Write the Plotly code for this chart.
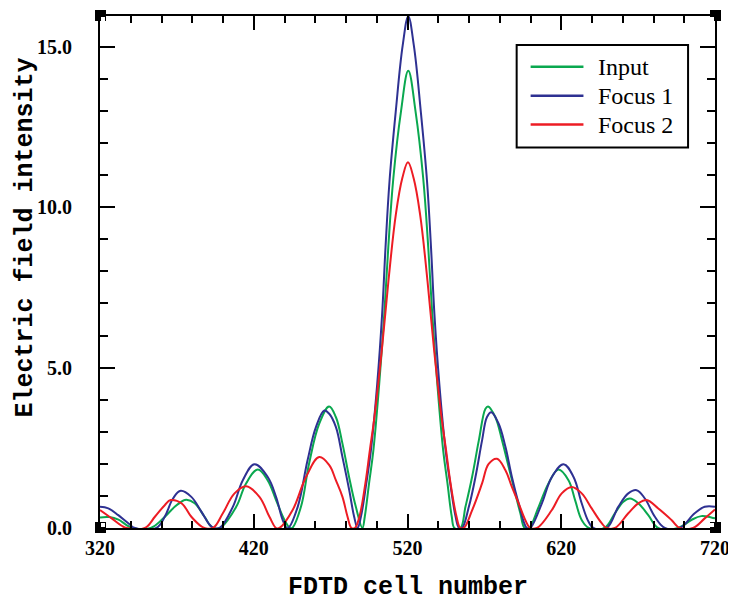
import plotly.graph_objects as go

# ---- data ----
input_x = [320, 326, 332, 337, 341, 353, 360, 368.6, 374, 376.2, 381.6, 388, 393, 398,
           408.6, 415, 422.6, 429, 434.5, 440, 443.5, 445, 450.7, 456, 462.6, 469, 473.4,
           477.7, 482, 486.4, 490.7, 492.2, 495, 497.8, 501.6, 504.9, 507.5, 510.8, 515.75,
           520.5, 525.25, 530.2, 533.5, 536.1, 539.4, 543.2, 546, 548.8, 550.5, 554.4,
           557.7, 562, 566.4, 570.7, 572.4, 577.1, 581.5, 585.8, 590.1, 593.4, 596.2, 599,
           605.3, 611.7, 618.2, 624.7, 629, 633.3, 638, 648, 654.9, 660.4, 664.7, 670.1,
           676.6, 683, 696, 704.6, 711, 717.6, 720]
input_y = [0.33, 0.34, 0.26, 0.10, 0.0, 0.0, 0.25, 0.66, 0.85, 0.88, 0.77, 0.35, 0.02, 0.0,
           0.66, 1.39, 1.82, 1.49, 0.87, 0.25, 0.0, 0.0, 0.66, 2.01, 3.25, 3.79, 3.46,
           2.63, 1.59, 0.66, 0.0, 0.35, 1.39, 2.42, 4.49, 6.67, 8.74, 10.91, 12.98,
           14.25, 12.98, 10.91, 8.74, 6.67, 4.49, 2.42, 1.39, 0.35, 0.0, 0.0,
           0.66, 1.59, 2.73, 3.72, 3.79, 3.46, 2.73, 1.90, 1.08, 0.46, 0.0, 0.0,
           0.66, 1.39, 1.82, 1.49, 0.87, 0.25, 0.0, 0.0, 0.46, 0.82, 0.92, 0.77,
           0.40, 0.0, 0.0, 0.25, 0.37, 0.33, 0.30]

focus1_x = [320, 325.4, 331.9, 338.4, 342.7, 356.7, 362.1, 367.5, 372.5, 379.4, 385.9, 391.3,
            394, 397.8, 406.4, 412.9, 420.5, 429.1, 434.5, 438.8, 441.5, 442.5, 448.6, 455,
            460.5, 465.9, 469.1, 473.4, 477.7, 482.1, 485.3, 487.5, 489.7, 493.2, 496.2,
            500.3, 503.5, 505.7, 508.3, 512.35, 516.9, 520.5, 524.1, 528.65, 532.7, 535.3,
            537.5, 540.7, 544.8, 547.8, 551.3, 553.5, 555.5, 559.9, 564.2, 568.5, 571.7,
            574.5, 579.3, 583.7, 587.9, 592.3, 597.6, 599.8, 607.4, 613.9, 621.5, 628, 633.3,
            637.7, 640.9, 649.5, 657.1, 663.6, 669, 674.4, 680.9, 687.4, 697.1, 706.8,
            713.3, 720]
focus1_y = [0.66, 0.61, 0.40, 0.15, 0.0, 0.0, 0.35, 0.92, 1.16, 0.97, 0.51, 0.10,
            0.0, 0.0, 0.66, 1.49, 1.99, 1.59, 0.97, 0.25, 0.0, 0.0, 0.66, 2.11,
            3.15, 3.66, 3.56, 3.15, 2.21, 1.18, 0.35, 0.0, 0.35, 1.39, 2.42,
            4.49, 6.67, 8.74, 10.81, 12.98, 15.05, 15.95, 15.05, 12.98, 10.81, 8.74,
            6.67, 4.49, 2.42, 1.39, 0.35, 0.0, 0.0, 0.66, 1.59, 2.73, 3.46,
            3.61, 3.25, 2.53, 1.59, 0.77, 0.0, 0.0, 0.77, 1.59, 1.99, 1.59, 0.77,
            0.20, 0.0, 0.0, 0.66, 1.08, 1.18, 0.92, 0.35, 0.0, 0.0, 0.46,
            0.66, 0.66]

focus2_x = [320, 327.6, 334.1, 337.3, 349.2, 355.7, 362.1, 366, 373, 379.4, 385.9, 388,
            393.5, 399.9, 407.5, 415.1, 423.7, 430.2, 434.5, 436.7, 445.3, 454, 462.6, 469.1,
            473.4, 477.7, 481, 483.5, 485.8, 488.7, 492.6, 495.5, 498.5, 503.3, 507.6, 512.4,
            516.6, 520.3, 524, 528.2, 533, 537.3, 542.1, 545.1, 548, 551.9, 554.3, 556.6,
            562, 568.5, 572.8, 578.2, 583.7, 587.9, 592.3, 596.6, 599.8, 604.2, 613.9, 620.3,
            626.8, 633.3, 639.8, 646.3, 649.5, 654.9, 663.6, 670.1, 675.5, 683.1, 691.7,
            697.1, 705.7, 713.3, 720]
focus2_y = [0.56, 0.30, 0.07, 0.0, 0.0, 0.35, 0.71, 0.87, 0.77, 0.35, 0.05, 0.0,
            0.0, 0.46, 1.08, 1.30, 0.97, 0.35, 0.0, 0.0, 0.56, 1.59, 2.21, 1.96,
            1.49, 0.97, 0.35, 0.0, 0.0, 0.35, 1.39, 2.42, 3.46, 5.55, 7.70, 9.77,
            10.90, 11.40, 10.90, 9.77, 7.70, 5.55, 3.46, 2.42, 1.39, 0.35, 0.0, 0.0,
            0.55, 1.39, 2.0, 2.16, 1.80, 1.28, 0.77, 0.25, 0.0, 0.0, 0.56, 1.08,
            1.28, 1.08, 0.61, 0.15, 0.0, 0.0, 0.46, 0.77, 0.87, 0.61, 0.25,
            0.0, 0.0, 0.30, 0.58]

series_names = ["Input", "Focus 1", "Focus 2"]
series_colors = ["#0aa84f", "#2e3192", "#ed1c24"]

x_title = "FDTD cell number"
y_title = "Electric field intensity"

fig = go.Figure()
for name, xs, ys, col in zip(series_names,
                             [input_x, focus1_x, focus2_x],
                             [input_y, focus1_y, focus2_y],
                             series_colors):
    fig.add_trace(go.Scatter(x=xs, y=ys, name=name, mode="lines", showlegend=False,
                             line=dict(color=col, width=2, shape="spline", smoothing=1.1)))

tick_font = dict(family="Liberation Serif", size=20, color="black", weight="bold")

# page body has an 8px margin, so the figure is sized to fit inside it
fig.update_layout(
    width=728, height=597,
    margin=dict(l=92, r=19, t=6, b=77),
    paper_bgcolor="white", plot_bgcolor="white",
    showlegend=False,
    xaxis=dict(range=[320, 720], tick0=320, dtick=100, showgrid=False, zeroline=False,
               showline=True, linecolor="black", linewidth=2, mirror="allticks",
               ticks="inside", ticklen=14, tickwidth=2, tickcolor="black",
               tickfont=tick_font, ticklabelstandoff=1,
               minor=dict(dtick=20, ticks="inside", ticklen=7, tickwidth=2,
                          tickcolor="black", showgrid=False)),
    yaxis=dict(range=[0, 15.96], tick0=0, dtick=5, tickformat=".1f", showgrid=False,
               zeroline=False, showline=True, linecolor="black", linewidth=2,
               mirror="allticks", ticks="inside", ticklen=15, tickwidth=2,
               tickcolor="black", tickfont=tick_font, ticklabelstandoff=22,
               minor=dict(dtick=1, ticks="inside", ticklen=8, tickwidth=2,
                          tickcolor="black", showgrid=False)),
)

title_font = dict(family="Liberation Mono", size=25, color="black", weight="bold")
fig.add_annotation(text=y_title, xref="paper", yref="paper", x=-0.1215, y=0.568,
                   textangle=-90, showarrow=False, font=title_font,
                   xanchor="center", yanchor="middle")
fig.add_annotation(text=x_title, xref="paper", yref="paper", x=0.5, y=-0.117,
                   showarrow=False, font=title_font, xanchor="center", yanchor="middle")

# legend box (drawn in the upper right of the plot area)
fig.add_shape(type="rect", xref="paper", yref="paper", x0=0.6775, x1=0.9562,
              y0=0.7432, y1=0.9436, fillcolor="white", line=dict(color="black", width=2),
              layer="above")
legend_rows = [0.9008, 0.8444, 0.7879]
for name, col, ry in zip(series_names, series_colors, legend_rows):
    fig.add_shape(type="line", xref="paper", yref="paper", x0=0.7002, x1=0.7861,
                  y0=ry, y1=ry, line=dict(color=col, width=2.5), layer="above")
    fig.add_annotation(text=name, xref="paper", yref="paper", x=0.8071, y=ry,
                       xanchor="left", yanchor="middle", showarrow=False,
                       font=dict(family="Liberation Serif", size=24, color="black"))

# corner markers
for cx in (0, 1):
    for cy in (0, 1):
        fig.add_shape(type="rect", xref="paper", yref="paper",
                      xsizemode="pixel", ysizemode="pixel", xanchor=cx, yanchor=cy,
                      x0=-5, x1=6, y0=-5, y1=6, fillcolor="black", line=dict(width=0),
                      layer="above")
        sx = 1 if cx == 0 else -1
        sy = 1 if cy == 0 else -1
        fig.add_shape(type="rect", xref="paper", yref="paper",
                      xsizemode="pixel", ysizemode="pixel", xanchor=cx, yanchor=cy,
                      x0=sx * 1, x1=sx * 5, y0=sy * 1, y1=sy * 5,
                      fillcolor="white", line=dict(width=0), layer="above")

fig.write_html("out.html")
